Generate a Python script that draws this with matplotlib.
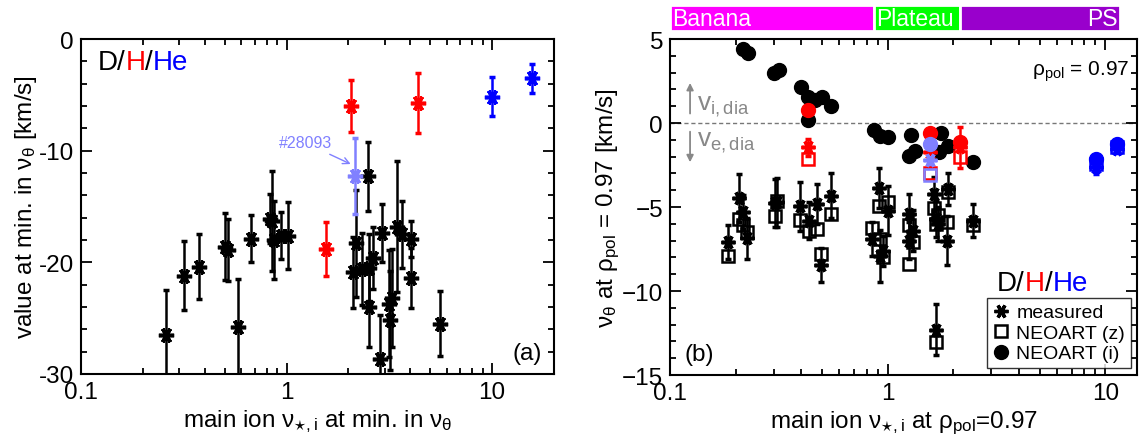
import matplotlib
matplotlib.use("Agg")
import matplotlib.pyplot as plt
from matplotlib.patches import Rectangle
from matplotlib.ticker import LogLocator, MultipleLocator, FixedLocator, FixedFormatter, NullFormatter

plt.rcParams['font.family'] = ['Liberation Sans', 'DejaVu Sans']
plt.rcParams['mathtext.fontset'] = 'custom'
plt.rcParams['mathtext.rm'] = 'Liberation Sans'
plt.rcParams['mathtext.it'] = 'Liberation Sans'
plt.rcParams['mathtext.bf'] = 'Liberation Sans:bold'

# ---------------- panel (a): value at minimum of v_theta ----------------
a_d_nu = [0.26, 0.318, 0.376, 0.50, 0.52, 0.583, 0.675, 0.83, 0.85, 0.865, 0.94, 1.015,
          2.10, 2.18, 2.32, 2.49, 2.52, 2.53, 2.62, 2.86, 2.90, 3.14, 3.20, 3.26, 3.43,
          3.66, 4.02, 4.02, 5.55]
a_d_v = [-26.5, -21.2, -20.4, -18.6, -18.9, -25.8, -17.9, -16.1, -16.3, -18.0, -17.6, -17.6,
         -20.9, -18.3, -20.6, -12.3, -20.5, -24.0, -19.6, -28.7, -17.4, -23.7, -25.2, -23.2, -16.8,
         -17.5, -17.9, -21.4, -25.5]
a_d_err = [4.0, 3.1, 2.9, 3.0, 2.8, 4.3, 2.1, 2.2, 4.5, 3.5, 2.1, 3.0,
           3.2, 4.8, 3.2, 3.1, 3.0, 3.6, 2.8, 4.0, 2.6, 4.8, 4.4, 4.4, 5.9,
           3.0, 1.6, 2.7, 2.9]
a_h_nu = [1.555, 2.05, 4.37]
a_h_v = [-18.8, -6.0, -5.7]
a_h_err = [2.45, 2.3, 2.7]
a_he_nu = [10.0, 15.6]
a_he_v = [-5.15, -3.5]
a_he_err = [1.75, 1.3]
a_shot_nu = [2.14]
a_shot_v = [-12.26]
a_shot_err = [3.4]

# ---------------- panel (b): v_theta at rho_pol = 0.97 ----------------
b_d_nu = [0.185, 0.208, 0.216, 0.226, 0.303, 0.31, 0.395, 0.435, 0.474, 0.492, 0.552,
          0.914, 1.0, 0.85, 0.919, 0.952, 1.26, 1.31, 1.26, 1.64, 1.67, 1.70, 1.89, 1.87,
          1.66, 2.46]
b_d_meas = [-7.1, -4.48, -5.28, -6.87, -4.76, -4.72, -4.96, -5.81, -4.82, -8.45, -4.33,
            -3.85, -5.22, -6.9, -7.9, -7.6, -5.42, -6.4, -7.0, -4.23, -5.71, -6.0, -3.93, -7.0,
            -12.3, -5.81]
b_d_err = [1.0, 1.44, 1.0, 1.2, 1.45, 1.45, 1.45, 1.1, 1.2, 1.0, 1.35,
           1.2, 1.45, 1.0, 1.55, 0.9, 1.2, 1.2, 1.1, 1.0, 1.1, 1.0, 0.95, 1.45,
           1.5, 1.0]
b_d_neoz = [-7.9, -5.7, -6.1, -6.47, -5.51, -4.62, -5.76, -6.41, -6.31, -7.8, -5.42,
            -4.92, -4.72, -6.27, -6.9, -8.0, -6.1, -7.1, -8.4, -5.07, -6.0, -5.5, -4.13, -5.9,
            -13.05, -6.07]
b_d_neoi_nu = [0.216, 0.227, 0.301, 0.317, 0.398, 0.431, 0.466, 0.497, 0.552, 0.431,
               0.865, 0.92, 1.0, 1.28, 1.26, 1.33, 1.75, 1.89, 1.72, 2.46]
b_d_neoi = [4.40, 4.17, 2.98, 3.17, 2.16, 1.57, 1.37, 1.57, 0.99, 0.20,
            -0.42, -0.75, -0.82, -0.70, -1.95, -1.65, -0.6, -1.35, -1.7, -2.34]

b_h_nu = [0.43, 1.56, 2.16]
b_h_meas = [-1.45, -1.75, -1.45]
b_h_err = [0.5, 0.4, 1.2]
b_h_neoz = [-2.14, -3.0, -2.04]
b_h_neoi = [0.79, -0.60, -1.15]

b_shot_nu = [1.57]
b_shot_meas = [-2.2]
b_shot_err = [0.5]
b_shot_neoz = [-3.1]
b_shot_neoi = [-1.25]

b_he_nu = [9.06, 11.3]
b_he_meas = [-2.6, -1.55]
b_he_err = [0.45, 0.25]
b_he_neoz = [-2.45, -1.4]
b_he_neoi = [-2.14, -1.25]

regimes = ['Banana', 'Plateau', 'PS']
regime_edges = [0.1, 0.867, 2.14, 11.7]
regime_colors = ['#FF00FF', '#00FF00', '#9900CC']

C_D, C_H, C_HE, C_SHOT = 'black', '#FF0000', '#0000FF', '#8080FF'
STAR = (6, 2, 90)
FS = 17.5

fig = plt.figure(figsize=(11.44, 4.35), dpi=100)
ax1 = fig.add_axes([0.0708, 0.138, 0.4135, 0.770])
ax2 = fig.add_axes([0.5857, 0.1356, 0.4082, 0.7724])


def style_axes(ax):
    for s in ax.spines.values():
        s.set_linewidth(1.5)
    ax.tick_params(which='both', direction='in', top=True, right=True, width=1.3,
                   labelsize=FS, pad=5)
    ax.tick_params(which='major', length=8)
    ax.tick_params(which='minor', length=4)


def star_err(ax, x, y, e, c, ms=11, lw=1.8):
    ax.errorbar(x, y, yerr=e, fmt='none', ecolor=c, elinewidth=lw, capsize=2.5,
                capthick=2.5, zorder=3)
    ax.plot(x, y, ls='none', marker=STAR, ms=ms, mec=c, mew=2.6, color=c, zorder=4)


def species_label(ax, x, y, size):
    t = ax.text(x, y, 'D/', transform=ax.transAxes, fontsize=size, va='center')
    t2 = ax.annotate('H', xycoords=t, xy=(1, 0), va='bottom', fontsize=size, color=C_H)
    t3 = ax.annotate('/', xycoords=t2, xy=(1, 0), va='bottom', fontsize=size, color='black')
    ax.annotate('He', xycoords=t3, xy=(1, 0), va='bottom', fontsize=size, color=C_HE)


# ---- panel (a)
ax1.set_xscale('log')
ax1.set_xlim(0.1, 20)
ax1.set_ylim(-30, 0)
star_err(ax1, a_d_nu, a_d_v, a_d_err, C_D)
star_err(ax1, a_h_nu, a_h_v, a_h_err, C_H)
star_err(ax1, a_he_nu, a_he_v, a_he_err, C_HE)
star_err(ax1, a_shot_nu, a_shot_v, a_shot_err, C_SHOT)
ax1.annotate('#28093', xy=(2.05, -11.2), xytext=(1.66, -9.3), color=C_SHOT,
             fontsize=11.5, ha='right', va='center',
             arrowprops=dict(arrowstyle='->', color=C_SHOT, lw=1, shrinkA=2, shrinkB=0))
style_axes(ax1)
ax1.xaxis.set_major_locator(FixedLocator([0.1, 1, 10]))
ax1.xaxis.set_major_formatter(FixedFormatter(['0.1', '1', '10']))
ax1.xaxis.set_minor_locator(LogLocator(base=10, subs=range(2, 10)))
ax1.xaxis.set_minor_formatter(NullFormatter())
ax1.yaxis.set_major_locator(MultipleLocator(10))
ax1.yaxis.set_minor_locator(MultipleLocator(2))
ax1.set_yticks([0, -10, -20, -30])
ax1.set_yticklabels(['0', '-10', '-20', '-30'])
ax1.set_xlabel(r'main ion ν$_{\star\mathrm{,i}}$ at min. in ν$_{\mathrm{θ}}$', fontsize=FS, labelpad=3)
ax1.set_ylabel(r'value at min. in ν$_{\mathrm{θ}}$ [km/s]', fontsize=FS, labelpad=0)
species_label(ax1, 0.035, 0.93, 20)
ax1.text(0.975, 0.03, '(a)', transform=ax1.transAxes, fontsize=FS, ha='right', va='bottom')

# ---- panel (b)
ax2.set_xscale('log')
ax2.set_xlim(0.1, 14)
ax2.set_ylim(-15, 5)
ax2.axhline(0, color='#777777', ls=(0, (3, 2)), lw=1.0, zorder=1)

ax2.plot(b_d_neoi_nu, b_d_neoi, 'o', color=C_D, ms=10, zorder=2)
star_err(ax2, b_d_nu, b_d_meas, b_d_err, C_D, ms=10)
ax2.plot(b_d_nu, b_d_neoz, 's', mfc='none', mec=C_D, mew=1.8, ms=9, zorder=3)

for nu, me, er, nz, ni, c in [(b_h_nu, b_h_meas, b_h_err, b_h_neoz, b_h_neoi, C_H),
                              (b_shot_nu, b_shot_meas, b_shot_err, b_shot_neoz, b_shot_neoi, C_SHOT),
                              (b_he_nu, b_he_meas, b_he_err, b_he_neoz, b_he_neoi, C_HE)]:
    ax2.plot(nu, ni, 'o', color=c, ms=10, zorder=5)
    star_err(ax2, nu, me, er, c, ms=10)
    ax2.plot(nu, nz, 's', mfc='none', mec=c, mew=1.8, ms=9, zorder=4)

style_axes(ax2)
ax2.xaxis.set_major_locator(FixedLocator([0.1, 1, 10]))
ax2.xaxis.set_major_formatter(FixedFormatter(['0.1', '1', '10']))
ax2.xaxis.set_minor_locator(LogLocator(base=10, subs=range(2, 10)))
ax2.xaxis.set_minor_formatter(NullFormatter())
ax2.yaxis.set_major_locator(MultipleLocator(5))
ax2.yaxis.set_minor_locator(MultipleLocator(1))
ax2.set_xlabel(r'main ion ν$_{\star\mathrm{,i}}$ at ρ$_{\mathrm{pol}}$=0.97', fontsize=FS, labelpad=3)
ax2.set_ylabel(r'ν$_{\mathrm{θ}}$ at ρ$_{\mathrm{pol}}$ = 0.97 [km/s]', fontsize=FS, labelpad=0)

# diamagnetic drift directions
ax2.annotate('', xy=(0.1236, 2.55), xytext=(0.1236, 0.4),
             arrowprops=dict(arrowstyle='-|>', color='#888888', lw=1.3, mutation_scale=10))
ax2.annotate('', xy=(0.1236, -2.5), xytext=(0.1236, -0.35),
             arrowprops=dict(arrowstyle='-|>', color='#888888', lw=1.3, mutation_scale=10))
ax2.text(0.133, 1.05, r'v$_{\mathrm{i,dia}}$', color='#888888', fontsize=19, va='center')
ax2.text(0.133, -1.1, r'v$_{\mathrm{e,dia}}$', color='#888888', fontsize=19, va='center')

ax2.text(0.985, 0.905, r'ρ$_{\mathrm{pol}}$ = 0.97', transform=ax2.transAxes, fontsize=15,
         ha='right', va='center')
ax2.text(0.03, 0.03, '(b)', transform=ax2.transAxes, fontsize=FS, ha='left', va='bottom')

# collisionality regimes bar
tr = ax2.get_xaxis_transform()
for i, (name, col) in enumerate(zip(regimes, regime_colors)):
    x0, x1 = regime_edges[i], regime_edges[i + 1]
    ax2.add_patch(Rectangle((x0, 1.024), x1 - x0, 0.077, transform=tr, facecolor=col,
                            edgecolor='white', lw=2, clip_on=False))
    if i < 2:
        ax2.text(x0 * 1.025, 1.06, name, transform=tr, color='white', fontsize=16.5,
                 ha='left', va='center')
    else:
        ax2.text(x1 / 1.03, 1.06, name, transform=tr, color='white', fontsize=16.5,
                 ha='right', va='center')

# legend
h_meas = plt.Line2D([], [], ls='none', marker=STAR, ms=10, mec='black', mew=2.4, color='black')
h_z = plt.Line2D([], [], ls='none', marker='s', ms=9, mfc='none', mec='black', mew=1.8)
h_i = plt.Line2D([], [], ls='none', marker='o', ms=10, color='black')
leg = ax2.legend([h_meas, h_z, h_i], ['measured', 'NEOART (z)', 'NEOART (i)'],
                 loc='lower right', bbox_to_anchor=(0.987, 0.02), fontsize=14, frameon=True,
                 fancybox=False, edgecolor='black', handlelength=0.8, handletextpad=0.4,
                 borderpad=0.3, labelspacing=0.15, borderaxespad=0)
leg.get_frame().set_linewidth(1.0)

species_label(ax2, 0.70, 0.275, 20)

fig.savefig('out.png', dpi=100)
